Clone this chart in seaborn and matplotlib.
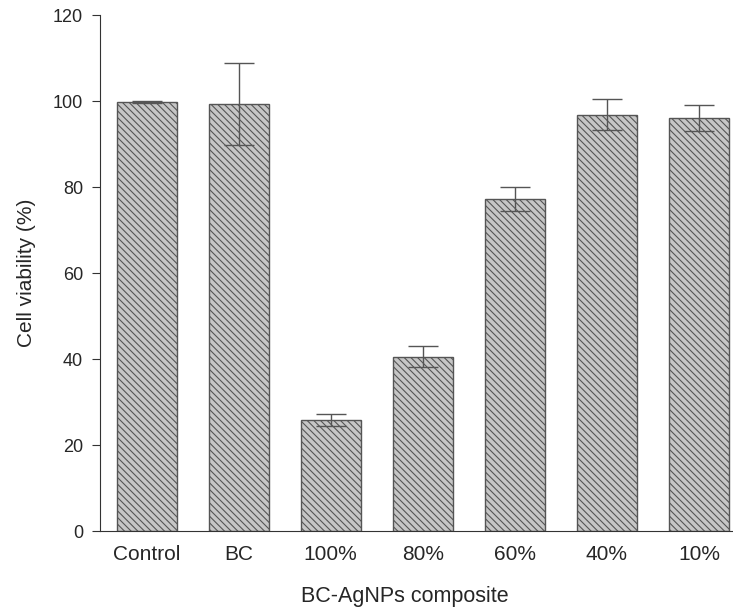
import matplotlib
matplotlib.use("Agg")
import matplotlib.pyplot as plt
import seaborn as sns
import pandas as pd

# values
groups = ["Control", "BC", "100%", "80%", "60%", "40%", "10%"]
viability = [99.8, 99.4, 25.8, 40.6, 77.2, 96.9, 96.0]
errors = [0.2, 9.6, 1.4, 2.5, 2.8, 3.7, 3.0]

df = pd.DataFrame({"group": groups, "viability": viability, "err": errors})

sns.set_style("white")
plt.rcParams["font.family"] = ["Liberation Sans", "DejaVu Sans"]
plt.rcParams["hatch.color"] = "#5a5a5a"
plt.rcParams["hatch.linewidth"] = 0.8

fig = plt.figure(figsize=(7.33, 6.09), dpi=100)
ax = fig.add_axes([0.136, 0.128, 0.864, 0.847])

sns.barplot(data=df, x="group", y="viability", color="#c6c6c6",
            errorbar=None, width=0.65, saturation=1, ax=ax)
for bar in ax.patches:
    bar.set_hatch("\\\\\\\\\\")
    bar.set_edgecolor("#555555")
    bar.set_linewidth(1.0)

ax.errorbar(range(len(groups)), df["viability"], yerr=df["err"], fmt="none",
            ecolor="#555555", elinewidth=1.0, capsize=11, capthick=1.0)

ax.set_ylim(0, 120)
ax.set_xlim(-0.51, 6.37)
ax.set_yticks(range(0, 121, 20))
sns.despine(ax=ax)
ax.spines["left"].set_color("#333333")
ax.spines["bottom"].set_color("#333333")
ax.tick_params(axis="y", direction="out", length=6, color="#333333",
               labelsize=13, left=True, pad=6)
ax.tick_params(axis="x", length=0, labelsize=15, pad=10)
ax.set_xlabel("BC-AgNPs composite", fontsize=15.5, labelpad=16, x=0.482)
ax.set_ylabel("Cell viability (%)", fontsize=15, labelpad=12)

fig.savefig("out.png", dpi=100)
